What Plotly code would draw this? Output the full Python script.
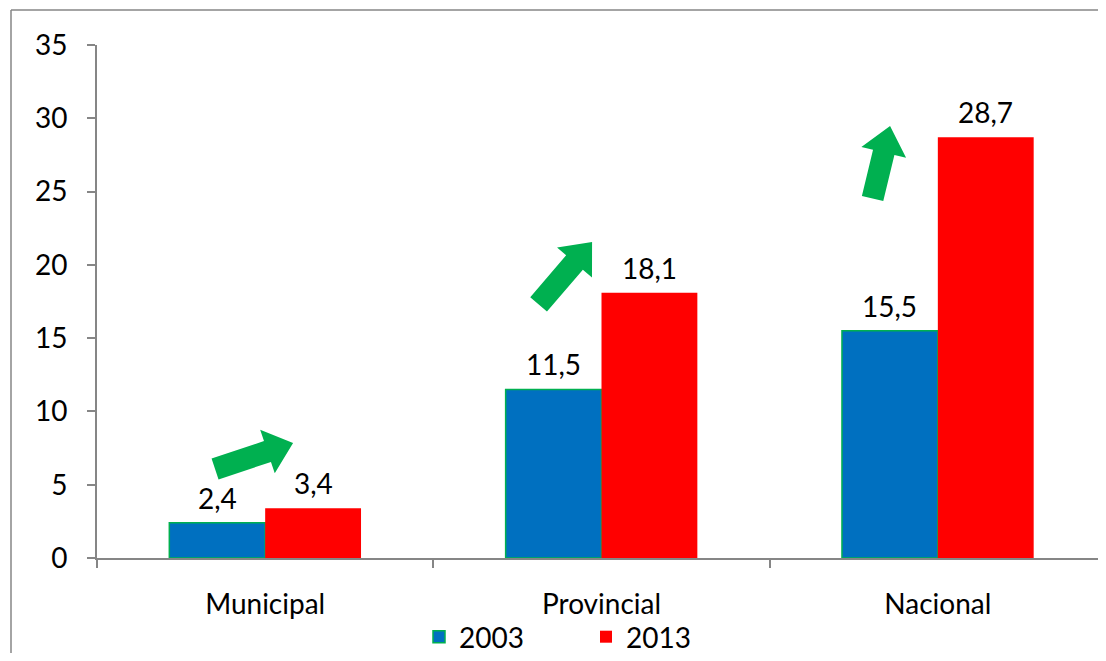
import math
import plotly.graph_objects as go

categories = ["Municipal", "Provincial", "Nacional"]
values_2003 = [2.4, 11.5, 15.5]
values_2013 = [3.4, 18.1, 28.7]
y_ticks = [0, 5, 10, 15, 20, 25, 30, 35]

# trend arrows: (tail x, tail y, tip x, tip y) in data units (x = category index)
arrow_tail_x = [-0.149, 0.813, 1.806]
arrow_tail_y = [6.07, 17.30, 24.53]
arrow_tip_x = [0.083, 0.972, 1.858]
arrow_tip_y = [7.85, 21.56, 29.47]

FONT = "Lato, 'Open Sans', Arial, sans-serif"
BLUE = "#0070C0"
RED = "#FF0000"
GREEN = "#00B050"
AXIS = "#868686"

W, H = 1090, 645
ML, MR, MT, MB = 89, 0, 37, 95
PW, PH = W - ML - MR, H - MT - MB
Y_MAX = 35
BARGAP = 0.43
CAT_PX = 336.33
X_RANGE = [-0.5, -0.5 + PW / CAT_PX]

fig = go.Figure()
fig.add_trace(go.Bar(
    name="2003", x=categories, y=values_2003,
    marker=dict(color=BLUE, line=dict(color=GREEN, width=1.5)),
))
fig.add_trace(go.Bar(
    name="2013", x=categories, y=values_2013,
    marker=dict(color=RED, line=dict(color=RED, width=0)),
))

# value labels above bars
half_bar_px = (1 - BARGAP) / 4 * CAT_PX
for vals, sign in ((values_2003, -1), (values_2013, 1)):
    for i, v in enumerate(vals):
        fig.add_annotation(
            x=categories[i], y=v, xref="x", yref="y",
            text=f"{v:.1f}".replace(".", ","), showarrow=False,
            xshift=sign * half_bar_px, yanchor="bottom", yshift=6,
            font=dict(size=28, color="black", family=FONT),
        )

# block arrows built in pixel space then mapped to paper coords
px_per_y = PH / Y_MAX
SHAFT, HEAD_W, HEAD_L = 22, 46, 27


def to_px(x, y):
    return (x - X_RANGE[0]) * CAT_PX, y * px_per_y


def to_paper(px, py):
    return px / PW, py / PH


for tx, ty, hx, hy in zip(arrow_tail_x, arrow_tail_y, arrow_tip_x, arrow_tip_y):
    ax_, ay_ = to_px(tx, ty)
    bx_, by_ = to_px(hx, hy)
    dx, dy = bx_ - ax_, by_ - ay_
    L = math.hypot(dx, dy)
    ux, uy = dx / L, dy / L
    nx, ny = -uy, ux
    basex, basey = bx_ - ux * HEAD_L, by_ - uy * HEAD_L
    pts = [
        (ax_ + nx * SHAFT / 2, ay_ + ny * SHAFT / 2),
        (basex + nx * SHAFT / 2, basey + ny * SHAFT / 2),
        (basex + nx * HEAD_W / 2, basey + ny * HEAD_W / 2),
        (bx_, by_),
        (basex - nx * HEAD_W / 2, basey - ny * HEAD_W / 2),
        (basex - nx * SHAFT / 2, basey - ny * SHAFT / 2),
        (ax_ - nx * SHAFT / 2, ay_ - ny * SHAFT / 2),
    ]
    path = "M " + " L ".join(f"{to_paper(*p)[0]:.5f},{to_paper(*p)[1]:.5f}" for p in pts) + " Z"
    fig.add_shape(type="path", xref="paper", yref="paper", path=path,
                  fillcolor=GREEN, line=dict(width=0), layer="above")

# outer chart border: left and top edges (others fall outside the picture)
bx0 = -86 / PW
by1 = 1 + 35 / PH
fig.add_shape(type="line", xref="paper", yref="paper",
              x0=bx0, x1=bx0, y0=-MB / PH, y1=by1,
              line=dict(color=AXIS, width=1.5), layer="below")
fig.add_shape(type="line", xref="paper", yref="paper",
              x0=bx0, x1=1.0, y0=by1, y1=by1,
              line=dict(color=AXIS, width=1.5), layer="below")

fig.update_layout(
    width=W, height=H,
    margin=dict(l=ML, r=MR, t=MT, b=MB, autoexpand=False),
    paper_bgcolor="white", plot_bgcolor="white",
    separators=",.",
    barmode="group", bargap=BARGAP, bargroupgap=0,
    font=dict(family=FONT, color="black"),
    showlegend=True,
    legend=dict(orientation="h", x=(419 - 97) / PW, xanchor="left",
                y=-79 / PH, yanchor="middle",
                font=dict(size=28, family=FONT),
                entrywidth=122, entrywidthmode="pixels",
                bgcolor="rgba(0,0,0,0)"),
    xaxis=dict(
        type="category", showgrid=False, showline=True, linecolor=AXIS, linewidth=2,
        ticks="outside", tickson="boundaries", ticklen=8, tickcolor=AXIS, tickwidth=2,
        tickfont=dict(size=28, family=FONT), ticklabelstandoff=20,
        range=X_RANGE,
    ),
    yaxis=dict(
        range=[0, Y_MAX], tickvals=y_ticks, showgrid=False, zeroline=False,
        showline=True, linecolor=AXIS, linewidth=2,
        ticks="outside", ticklen=8, tickcolor=AXIS, tickwidth=2,
        tickfont=dict(size=28, family=FONT), ticklabelstandoff=14,
    ),
)

fig.write_html("out.html")
